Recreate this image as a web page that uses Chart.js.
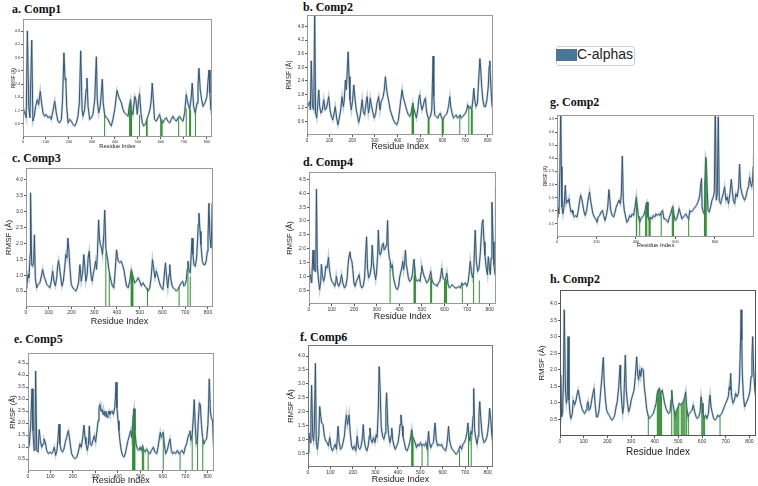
<!DOCTYPE html>
<html><head><meta charset="utf-8">
<script src="https://cdn.jsdelivr.net/npm/chart.js@4.4.1/dist/chart.umd.min.js"></script>
<style>
html,body{margin:0;padding:0;background:#fff;}
#fig{position:relative;width:758px;height:486px;overflow:hidden;background:#fff;}
.ttl{position:absolute;font-family:'Liberation Serif','Times New Roman',serif;font-weight:bold;font-size:12px;line-height:12px;color:#111;white-space:nowrap;}
#legBox{position:absolute;left:556px;top:46px;width:79px;height:20px;border:1px solid #cfcfcf;border-radius:3px;box-sizing:border-box;background:#fff;}
#legSw{position:absolute;left:556px;top:49px;width:21px;height:12px;background:#4a7796;}
#legTx{position:absolute;left:577px;top:47px;font-family:'Liberation Sans',Arial,sans-serif;font-size:14px;line-height:14px;color:#222;white-space:nowrap;}
</style></head>
<body><div id="fig">
<div id="legBox"></div><div id="legSw"></div><div id="legTx">C-alphas</div>
</div>
<script>
// ---------------- data ----------------
const xTicks100 = [0,100,200,300,400,500,600,700,800];
const xTicks200 = [0,200,400,600,800];
const yTicks06 = [0.6,1.2,1.8,2.4,3.0,3.6,4.2,4.8];
const yTicks05a = [0.5,1.0,1.5,2.0,2.5,3.0,3.5,4.0];
const yTicks05b = [0.5,1.0,1.5,2.0,2.5,3.0,3.5,4.0,4.5];

const resA = [0,7,14,19,25,30,38,43,49,55,62,68,75,81,87,94,101,109,116,123,130,138,145,152,159,167,172,178,183,186,190,196,203,210,217,225,232,239,245,251,257,261,268,274,278,283,290,297,304,312,319,323,329,336,345,349,355,362,370,377,384,391,399,404,409,416,422,428,435,442,449,457,462,468,472,478,486,491,497,503,507,513,519,525,532,539,546,552,558,562,567,572,580,587,594,601,609,616,623,630,638,645,652,659,667,674,681,688,696,703,710,717,725,732,736,742,749,757,761,765,771,777,783,788,794,800,804,809,813,817,822];
const rmsfA = [0.94,1.17,0.87,4.81,1.39,0.87,4.39,0.72,0.94,1.39,1.69,1.47,2.07,1.54,1.09,0.94,1.02,0.87,0.94,0.8,1.17,1.62,1.09,0.72,0.64,0.8,1.69,3.82,2.6,2.67,1.39,0.64,0.8,0.72,0.57,0.5,0.64,0.94,1.54,3.91,1.24,0.94,1.24,2.14,2.67,1.39,0.8,0.87,1.02,1.69,3.64,1.69,1.09,1.39,2.62,1.54,1.02,0.87,0.8,0.62,0.5,0.8,1.24,1.69,2.11,1.84,1.69,1.54,1.24,1.09,1.02,0.94,1.39,1.69,1.24,1.02,1.84,1.69,1.02,1.69,1.96,1.09,0.64,0.5,0.57,0.8,1.02,1.24,1.69,2.44,1.69,0.8,0.72,0.87,1.02,0.72,0.64,0.8,0.87,0.72,0.64,0.8,0.94,0.8,0.72,0.87,0.94,0.8,0.72,1.09,1.92,1.54,1.24,1.84,2.44,1.39,1.09,1.54,2.29,3.12,2.14,1.69,1.39,1.47,1.62,1.84,2.44,3.04,2.0,1.24,1.39];
const contactResA = [355,464,466,468,470,472,507,537,540,599,602,605,677,710,725,727,729,750];
const contactRmsfA = [1.02,1.4,1.5,1.69,1.4,1.2,1.0,0.8,0.8,0.8,0.75,0.8,0.9,1.3,1.24,1.2,1.24,1.1];

const resB = [0,6,12,15,19,24,30,34,38,43,47,52,56,62,68,74,80,86,92,96,102,108,114,120,125,131,137,143,149,155,161,165,170,174,179,182,186,190,196,202,207,213,218,224,229,236,244,249,255,261,266,272,276,280,286,292,298,304,310,317,323,328,332,337,342,347,351,356,362,368,375,382,390,397,404,410,415,421,425,431,437,443,449,455,461,468,472,478,484,490,494,499,503,509,515,520,524,528,534,540,546,552,555,558,561,565,571,579,584,590,596,602,608,614,620,626,632,636,642,648,654,660,666,672,677,683,689,695,701,707,711,717,723,729,734,738,742,748,754,758,765,769,773,778,784,790,796,802,806,809,812,816,819,822];
const rmsfB = [1.19,1.34,1.48,1.11,3.29,1.26,1.11,5.6,0.97,0.75,1.26,2.0,1.26,0.97,1.11,1.56,1.11,1.19,1.48,1.7,1.11,0.82,0.67,0.97,1.26,0.75,0.45,0.75,1.11,1.7,1.26,1.56,2.44,2.0,3.03,3.69,2.59,1.56,1.11,1.56,2.22,1.56,1.11,0.82,0.56,0.89,1.56,1.04,0.89,1.41,1.7,0.97,1.19,1.63,1.26,0.97,0.75,0.97,1.41,1.7,1.11,1.48,1.56,1.7,2.0,2.59,2.14,1.78,1.48,1.11,0.89,0.67,0.53,0.45,0.64,1.11,1.56,2.0,1.7,1.48,1.26,1.04,0.89,0.82,0.97,1.41,1.19,0.97,0.75,1.11,1.56,1.78,1.41,1.11,1.34,1.56,1.63,1.11,0.82,0.75,0.82,1.11,2.29,3.5,1.7,0.89,0.82,0.75,0.89,0.97,0.75,0.67,0.82,0.89,0.97,1.26,1.7,1.26,0.97,0.75,0.82,0.89,0.75,0.82,0.89,0.75,0.82,0.89,0.97,1.11,1.34,1.19,1.26,1.11,1.56,2.07,1.56,1.26,1.41,2.14,3.39,2.88,2.14,1.56,1.26,1.26,1.56,2.14,3.03,3.29,2.44,1.7,1.26,2.59];
const contactResB = [465,467,469,471,536,538,540,598,600,603,676,716,727,729,731];
const contactRmsfB = [1.26,1.3,1.41,1.25,0.8,0.8,0.78,0.72,0.7,0.68,0.89,1.2,1.1,1.1,1.1];

const resC = [0,4,9,13,18,20,25,29,34,37,41,47,54,61,69,73,79,85,91,98,105,111,117,123,129,135,139,143,148,152,158,164,170,175,180,184,189,193,199,206,213,219,225,231,237,243,249,254,259,263,269,273,278,282,287,291,295,301,306,310,314,319,323,327,332,336,342,346,351,355,360,364,368,374,380,386,392,398,402,406,412,418,424,430,436,442,449,456,463,468,472,478,485,493,500,507,515,522,529,537,544,550,556,561,567,573,579,585,591,596,602,608,613,617,623,629,632,636,642,648,655,661,668,675,683,689,694,700,705,709,712,716,722,726,730,734,738,744,750,754,757,760,765,769,775,781,787,792,797,800,804,808,813,816,819,822];
const rmsfC = [0.6,0.71,1.02,0.92,1.65,3.59,1.33,1.28,1.44,2.27,0.92,0.6,0.71,0.76,1.02,1.18,0.97,0.86,0.71,0.66,0.6,0.81,1.13,0.81,0.66,0.92,1.28,1.46,1.23,0.97,0.66,0.81,1.23,1.65,1.54,2.17,1.75,1.23,0.71,0.6,0.55,0.5,0.6,0.76,1.33,0.81,1.07,1.65,1.23,0.81,1.02,1.54,1.75,1.33,0.92,0.81,1.02,1.23,1.44,1.18,1.65,2.74,2.17,1.96,1.85,1.65,2.27,3.05,1.85,1.65,1.44,1.18,1.02,0.81,0.66,0.6,1.13,1.8,1.59,1.44,1.39,1.44,1.33,1.18,0.92,0.66,0.6,0.81,1.18,1.02,0.92,0.76,0.81,0.92,0.81,0.66,0.76,0.66,0.6,0.5,0.6,0.92,1.49,1.23,0.92,1.13,0.97,0.81,0.66,0.6,0.55,1.02,1.39,1.02,0.6,1.02,1.33,0.92,0.66,0.6,0.55,0.5,0.55,0.66,0.76,0.81,0.66,0.71,0.86,1.18,1.44,1.18,1.07,1.65,2.17,1.65,1.33,1.28,1.54,2.06,2.58,2.95,2.38,1.96,1.44,1.33,1.33,1.44,1.75,2.17,3.26,2.27,1.85,2.38,3.26,0.92];
const contactResC = [351,366,462,464,466,468,470,534,673,712,722];
const contactRmsfC = [1.7,1.05,1.1,1.18,1.1,1.0,0.9,0.6,0.62,1.3,0.95];

const resD = [0,6,12,15,18,22,27,30,33,37,41,47,52,55,59,65,70,74,80,86,90,95,101,107,114,119,121,126,132,138,144,150,157,163,169,173,178,181,185,190,194,199,204,210,216,222,228,234,240,246,250,255,259,264,270,276,280,284,289,295,299,304,307,311,316,320,324,329,333,338,342,345,348,351,356,360,364,369,373,379,385,391,397,401,407,411,415,419,424,427,431,436,440,446,452,458,462,465,470,474,480,486,492,496,499,504,510,516,521,527,533,539,544,550,556,561,567,573,579,584,588,593,599,604,610,616,622,628,634,640,647,655,662,670,677,684,692,699,705,710,714,719,724,729,733,736,741,747,753,759,763,767,770,775,779,785,790,794,799,803,806,810,815,819,824,827];
const rmsfD = [0.58,1.06,0.76,1.42,1.95,1.24,1.18,1.3,4.15,1.42,0.94,0.52,0.82,1.44,1.06,0.82,1.0,1.36,1.3,1.69,1.3,1.0,0.82,0.76,0.64,0.82,1.0,0.76,0.64,0.76,1.06,0.76,0.58,0.64,0.94,1.42,1.77,1.89,1.65,1.54,1.24,0.76,0.64,0.82,0.94,1.06,0.7,0.58,0.64,0.94,1.65,2.43,1.3,0.94,1.06,1.36,2.13,1.54,1.18,0.88,1.12,1.77,2.67,1.89,1.77,1.89,2.13,2.19,1.95,2.01,2.13,2.37,3.02,2.01,1.65,1.54,1.3,1.42,1.0,0.76,0.58,0.52,0.64,0.94,1.18,1.3,1.54,1.24,1.54,1.95,1.42,1.18,0.94,0.82,0.88,1.06,1.42,1.62,1.06,0.88,0.82,0.88,0.82,1.12,1.38,1.18,1.0,0.88,0.76,0.82,0.94,1.18,0.88,0.76,0.7,0.7,0.64,0.76,0.82,1.06,1.3,0.94,0.88,0.88,1.12,0.7,0.58,0.64,0.7,0.64,0.58,0.58,0.64,0.58,0.76,0.7,0.76,0.64,0.82,1.18,1.54,1.18,0.94,1.18,2.01,2.67,1.54,1.18,1.3,1.89,2.49,2.96,3.05,2.25,1.77,1.3,1.06,1.71,1.3,1.06,1.65,3.68,2.25,1.42,1.06,4.21];
const contactResD = [359,465,467,469,471,539,541,543,600,603,606,609,679,729,754];
const contactRmsfD = [1.5,1.0,1.1,1.3,1.0,0.95,0.95,0.9,0.85,0.88,0.9,0.85,0.75,1.2,0.85];

const resE = [0,6,12,18,22,27,31,34,39,45,50,55,61,67,71,77,83,91,98,105,113,117,123,129,134,138,142,148,154,160,166,172,177,180,184,188,194,202,209,217,224,231,237,243,249,254,258,264,269,273,277,283,289,295,301,307,312,316,320,325,329,334,338,343,347,352,356,361,365,369,374,380,386,389,392,396,401,405,409,415,421,427,433,439,445,451,457,461,466,470,472,476,481,487,493,499,504,510,516,522,528,536,543,550,558,565,573,579,585,589,593,598,602,607,613,620,626,632,638,644,650,657,665,672,678,685,693,700,706,712,717,721,725,731,736,740,745,749,754,758,763,767,772,777,783,789,795,801,804,807,812,816,822,826];
const rmsfE = [0.86,1.13,1.95,3.43,1.68,0.86,1.4,4.17,0.86,0.79,1.73,1.27,0.99,1.13,1.34,1.2,0.86,0.72,0.79,0.72,0.86,0.99,0.65,0.86,1.4,1.95,1.13,0.86,0.79,0.92,1.2,1.4,1.61,1.68,1.4,1.13,0.72,0.58,0.51,0.58,0.79,1.13,0.99,1.34,1.91,1.4,1.13,0.86,1.13,1.88,1.13,1.06,1.27,1.47,1.2,1.68,2.09,2.64,2.77,2.5,2.57,2.36,2.5,2.29,2.5,2.23,2.36,2.5,2.36,2.43,2.5,2.36,2.64,3.05,3.7,2.64,2.09,1.68,1.27,0.86,0.65,0.58,0.72,0.99,1.27,1.47,1.68,1.4,1.95,2.5,2.6,1.68,1.13,0.92,0.86,0.99,0.86,1.06,0.86,0.79,0.92,0.79,0.72,0.86,0.99,0.79,0.72,0.99,1.4,1.61,1.4,1.54,1.61,1.13,0.72,0.86,1.13,1.34,0.86,0.72,0.79,0.72,0.86,0.72,0.79,0.86,0.72,0.99,1.13,1.4,1.54,1.68,1.27,1.54,2.23,2.98,1.82,1.13,1.27,2.09,2.84,2.77,1.95,1.4,1.13,1.27,1.34,1.95,2.77,3.84,2.5,2.23,2.09,0.99];
const contactResE = [466,468,470,472,474,476,509,512,515,535,602,677,731,755,778];
const contactRmsfE = [1.9,2.3,2.5,2.4,1.8,1.5,0.95,0.95,0.9,0.8,1.5,0.75,1.5,1.3,1.3];

const resF = [0,4,10,13,16,21,25,28,33,37,42,48,52,57,61,67,73,79,85,91,97,103,109,115,121,127,131,134,139,145,151,156,162,167,171,176,180,183,188,194,200,206,213,219,225,231,237,243,246,250,256,262,268,273,276,280,286,292,298,304,308,313,317,322,326,332,338,344,347,350,355,359,365,370,373,377,383,389,395,401,407,410,414,419,423,429,435,441,447,453,458,462,466,471,477,483,489,495,501,507,513,519,525,531,537,541,547,553,559,563,566,571,577,583,589,595,601,607,613,618,623,626,630,636,642,648,654,660,666,672,678,684,690,696,702,708,712,717,721,726,730,735,738,742,747,753,758,761,765,769,774,778,784,790,796,800,805,809,814,818,823];
const rmsfF = [0.52,1.23,0.88,1.71,2.95,1.11,0.94,1.35,3.74,0.88,0.64,1.11,2.18,1.82,1.59,1.53,1.11,0.94,0.88,0.76,1.06,0.7,0.58,0.7,0.82,0.64,1.11,1.47,0.88,0.64,0.7,0.88,1.11,1.59,1.88,1.53,1.71,1.88,1.23,0.76,0.64,0.76,0.58,1.11,0.7,0.64,0.76,1.11,1.53,1.0,0.7,0.58,0.76,1.11,1.41,1.0,0.88,1.06,0.88,1.17,1.06,2.06,3.62,2.65,1.47,1.11,1.0,1.23,2.06,2.68,1.59,1.17,0.88,1.11,1.41,1.0,0.76,0.64,0.76,0.88,1.23,1.53,1.88,1.47,1.11,0.88,0.64,0.58,0.7,0.88,1.11,1.35,1.11,1.0,0.88,0.7,0.82,0.76,0.88,0.76,0.82,0.76,0.88,0.64,1.29,0.88,0.7,0.82,0.88,1.35,1.59,1.0,0.76,0.82,0.76,0.82,0.7,0.64,0.58,0.76,1.17,1.47,1.0,0.76,0.64,0.58,0.52,0.46,0.52,0.64,0.76,0.64,0.82,0.88,1.0,1.23,1.59,1.11,0.94,1.29,1.17,1.82,2.83,1.35,1.06,0.82,1.11,1.82,2.36,1.82,1.29,1.06,0.88,0.94,1.06,1.23,1.59,2.12,1.71,1.23,0.88];
const contactResF = [462,464,466,468,508,534,675,715,727];
const contactRmsfF = [1.2,1.3,1.1,1.0,0.75,0.8,0.6,1.3,1.1];

const resG = [0,5,10,15,19,22,25,30,35,39,42,47,52,57,61,66,71,76,81,88,95,101,108,115,120,125,130,137,143,150,157,162,165,170,176,182,189,196,203,209,216,223,230,236,243,250,257,263,268,272,280,287,294,300,307,314,321,326,331,336,341,348,354,361,368,375,381,388,395,402,407,412,419,425,432,439,446,452,456,461,468,474,481,488,495,501,508,515,522,528,535,542,549,555,562,569,576,582,587,593,599,606,613,619,626,633,640,646,653,660,667,673,680,687,694,700,707,714,719,722,727,732,735,741,746,749,753,756,760,765,771,778,785,792,797,802,807,812,817,822,829,835,842,849,856,862,869,876,883,888,893,900,906,913,920,925,930,937,943,950,957,964,970,976,981,986,991,994,997];
const rmsfG = [0.76,1.14,0.88,2.68,5.0,2.68,1.14,0.88,1.14,1.53,1.97,1.27,1.4,1.33,1.46,1.14,0.95,1.01,0.88,0.76,0.82,0.76,1.01,1.4,1.59,1.46,1.27,0.95,0.82,1.01,1.4,1.59,1.72,1.4,1.14,0.88,0.76,0.69,0.56,0.76,0.82,0.95,1.01,0.82,0.63,0.82,1.14,1.81,1.4,1.01,0.82,0.76,0.95,1.14,1.27,1.4,1.27,1.65,3.09,1.4,1.01,0.76,0.56,0.63,0.82,0.76,0.88,0.82,1.14,1.53,1.14,0.82,0.56,0.69,0.76,0.82,1.01,1.27,1.33,0.76,0.63,0.76,0.69,0.82,0.76,0.88,0.82,0.88,0.82,0.95,1.01,0.69,0.69,0.63,0.56,0.76,0.88,1.08,1.17,0.82,0.63,0.69,0.88,1.08,0.88,0.69,0.76,0.82,0.88,0.76,0.69,1.01,0.95,1.01,1.08,1.14,1.21,1.33,1.46,1.53,1.91,2.23,1.14,0.95,0.88,1.91,3.04,2.94,2.04,1.01,0.95,1.14,1.4,1.53,1.72,5.0,1.4,1.65,4.58,1.4,1.27,1.46,1.65,1.91,1.4,1.53,1.27,1.65,2.2,1.78,1.4,1.27,1.65,1.53,1.91,2.78,1.91,1.65,1.53,1.4,1.53,1.78,1.91,2.29,2.04,1.91,2.17,2.68,3.13];
const contactResG = [402,404,419,449,452,455,466,469,472,528,584,587,590,667,747,750,753,756];
const contactRmsfG = [1.5,1.3,0.8,1.0,1.2,1.3,0.7,0.75,0.75,0.9,1.0,1.1,0.9,0.7,1.5,2.2,3.0,2.9];

const resH = [0,3,7,11,15,18,23,27,31,34,38,42,46,52,56,62,68,73,77,82,87,93,99,104,110,114,118,123,128,134,139,144,148,154,159,165,170,176,180,183,187,192,197,203,208,214,220,225,231,237,242,248,252,254,256,261,265,269,272,276,280,285,290,296,301,307,313,318,324,328,332,337,341,346,352,356,361,366,372,377,383,389,394,400,406,411,415,420,424,428,432,437,442,448,454,459,465,469,472,476,482,487,493,499,504,510,515,521,527,531,535,541,546,552,558,563,569,575,580,586,592,596,600,604,610,615,621,627,631,634,638,644,649,655,661,666,672,677,683,689,694,700,706,711,715,718,721,725,731,737,742,748,754,758,763,765,768,770,775,780,786,792,797,803,807,811,814,818,823,827];
const rmsfH = [0.88,1.85,0.58,0.68,1.9,3.82,1.39,0.99,1.19,3.01,1.09,0.68,0.53,0.68,1.09,0.94,1.09,1.29,1.39,1.19,0.99,0.83,0.73,0.68,0.78,0.94,1.04,0.78,0.83,1.09,1.29,1.44,0.99,0.58,0.58,0.78,1.19,1.69,2.1,2.38,1.59,1.09,0.78,0.68,0.63,0.53,0.48,0.53,0.63,0.88,1.04,1.49,1.95,2.15,1.59,0.99,0.68,0.88,1.59,2.45,1.39,0.99,0.73,0.88,1.09,1.24,1.39,1.8,2.4,1.9,1.69,2.0,1.8,2.05,2.0,1.49,1.19,0.83,0.63,0.53,0.58,0.63,0.68,0.83,0.99,1.29,1.39,1.44,1.19,1.34,1.39,1.19,0.99,0.83,0.73,0.68,0.73,1.09,1.39,0.99,0.78,0.58,0.78,0.88,0.99,0.94,0.99,1.04,1.19,1.34,0.88,0.58,0.68,0.73,0.78,0.94,0.73,0.58,0.53,0.58,0.73,1.19,0.99,0.68,0.53,0.63,0.53,0.68,1.09,1.24,0.88,0.68,0.53,0.48,0.53,0.63,0.58,0.63,0.68,0.78,0.88,0.99,1.09,1.19,1.49,1.39,1.9,1.19,0.99,1.09,1.29,1.19,1.29,1.69,2.91,3.82,2.91,1.9,1.19,0.88,0.99,1.09,1.19,1.39,1.8,2.4,3.01,2.0,1.39,1.19];
const contactResH = [373,411,414,417,420,423,426,429,472,482,486,490,494,498,502,512,516,520,524,528,534,542,599,603,607,611,676];
const contactRmsfH = [0.63,1.29,1.39,1.44,1.2,1.3,1.39,1.2,1.39,0.78,0.6,0.75,0.8,0.88,0.95,0.95,0.99,1.04,1.1,1.2,0.9,0.6,0.99,0.7,0.6,0.55,0.63];

// ---------------- layout / style ----------------
const panels = [
  {title:'a. Comp1', tx:12, ty:3,   L:23,  T:19,  R:212, B:137, yw:12, xh:13, yMax:5.35, xMax:822, yt:yTicks06,  xt:xTicks100, tf:3.8, ytf:4.5, xtf:5.7, res:resA, val:rmsfA, gr:contactResA, gv:contactRmsfA, frame:'#999'},
  {title:'b. Comp2', tx:303, ty:1,  L:307, T:15,  R:493, B:135, yw:22, xh:17, yMax:5.32, xMax:823, yt:yTicks06,  xt:xTicks100, tf:4.5, ytf:6.5, xtf:9,   res:resB, val:rmsfB, gr:contactResB, gv:contactRmsfB, frame:'#999'},
  {title:'c. Comp3', tx:12, ty:152, L:26,  T:168, R:213, B:307, yw:22, xh:20, yMax:4.37, xMax:822, yt:yTicks05a, xt:xTicks100, tf:5,   ytf:8,   xtf:9,   res:resC, val:rmsfC, gr:contactResC, gv:contactRmsfC, frame:'#999'},
  {title:'d. Comp4', tx:303, ty:156,L:309, T:172, R:496, B:304, yw:24, xh:18, yMax:4.77, xMax:828, yt:yTicks05b, xt:xTicks100, tf:5,   ytf:7.5, xtf:9,   res:resD, val:rmsfD, gr:contactResD, gv:contactRmsfD, frame:'#999'},
  {title:'e. Comp5', tx:14, ty:333, L:28,  T:353, R:214, B:471, yw:20, xh:15, yMax:4.92, xMax:828, yt:yTicks05b, xt:xTicks100, tf:5,   ytf:7.5, xtf:9,   res:resE, val:rmsfE, gr:contactResE, gv:contactRmsfE, frame:'#999'},
  {title:'f. Comp6', tx:300, ty:331,L:308, T:345, R:493, B:467, yw:22, xh:18, yMax:4.4,  xMax:824, yt:yTicks05a, xt:xTicks100, tf:5,   ytf:7.5, xtf:9,   res:resF, val:rmsfF, gr:contactResF, gv:contactRmsfF, frame:'#777'},
  {title:'g. Comp2', tx:550, ty:96, L:557, T:115, R:754, B:237, yw:14, xh:12, yMax:4.65, xMax:998, yt:yTicks05b, xt:xTicks200, tf:3.8, ytf:4.5, xtf:5.9, res:resG, val:rmsfG, gr:contactResG, gv:contactRmsfG, frame:'#999'},
  {title:'h. Comp2', tx:550, ty:273,L:560, T:290, R:756, B:436, yw:23, xh:22, yMax:4.42, xMax:828, yt:yTicks05a, xt:xTicks100, tf:5,   ytf:8,   xtf:10,  res:resH, val:rmsfH, gr:contactResH, gv:contactRmsfH, frame:'#555'}
];

Chart.defaults.font.family = "'Liberation Sans', Arial, sans-serif";
const LINE_DARK = '#36556f', LINE_HALO = 'rgba(125,160,190,0.5)', GREEN = '#2f8f2f';

const framePlugin = {
  id: 'frame',
  afterDatasetsDraw(chart, args, opts) {
    const a = chart.chartArea, c = chart.ctx;
    c.save();
    c.strokeStyle = opts.color || '#999';
    c.lineWidth = 1;
    c.strokeRect(Math.round(a.left) + 0.5, Math.round(a.top) + 0.5,
                 Math.round(a.right - a.left) - 1, Math.round(a.bottom - a.top) - 1);
    c.restore();
  }
};

const fig = document.getElementById('fig');
panels.forEach(p => {
  const t = document.createElement('div');
  t.className = 'ttl'; t.textContent = p.title;
  t.style.left = p.tx + 'px'; t.style.top = p.ty + 'px';
  fig.appendChild(t);

  const w = p.R - p.L + p.yw, h = p.B - p.T + p.xh;
  const cv = document.createElement('canvas');
  cv.width = w; cv.height = h;
  cv.style.cssText = 'position:absolute;left:' + (p.L - p.yw) + 'px;top:' + p.T + 'px;width:' + w + 'px;height:' + h + 'px;';
  fig.appendChild(cv);

  const n = Math.min(p.res.length, p.val.length);
  const curve = [];
  for (let i = 0; i < n; i++) curve.push({x: p.res[i], y: p.val[i]});
  const contacts = [];
  p.gr.forEach((r, i) => { contacts.push({x: r, y: 0}, {x: r, y: p.gv[i]}, {x: r, y: null}); });

  const gridOpts = {drawOnChartArea: false, drawTicks: true, tickLength: 2, color: '#555'};
  new Chart(cv, {
    type: 'line',
    data: {datasets: [
      {data: contacts, borderColor: GREEN, borderWidth: 1, pointRadius: 0, spanGaps: false, order: 0},
      {data: curve, borderColor: LINE_DARK, borderWidth: 1, pointRadius: 0, order: 1},
      {data: curve, borderColor: LINE_HALO, borderWidth: 2.2, pointRadius: 0, order: 2}
    ]},
    options: {
      responsive: false, animation: false, events: [],
      layout: {padding: 0},
      plugins: {legend: {display: false}, tooltip: {enabled: false}, frame: {color: p.frame}},
      scales: {
        x: {
          type: 'linear', min: 0, max: p.xMax,
          afterBuildTicks: s => { s.ticks = p.xt.map(v => ({value: v})); },
          afterFit: s => { s.height = p.xh; s.paddingLeft = 0; s.paddingRight = 0; },
          ticks: {font: {size: p.tf}, color: '#333', padding: 1, maxRotation: 0, autoSkip: false, callback: v => String(v)},
          grid: gridOpts, border: {display: false},
          title: {display: true, text: 'Residue Index', font: {size: p.xtf}, color: '#222', padding: 0}
        },
        y: {
          type: 'linear', min: 0, max: p.yMax,
          afterBuildTicks: s => { s.ticks = p.yt.map(v => ({value: v})); },
          afterFit: s => { s.width = p.yw; s.paddingTop = 0; s.paddingBottom = 0; },
          ticks: {font: {size: p.tf}, color: '#333', padding: 1, callback: v => Number(v).toFixed(1)},
          grid: gridOpts, border: {display: false},
          title: {display: true, text: 'RMSF (Å)', font: {size: p.ytf}, color: '#222', padding: 0}
        }
      }
    },
    plugins: [framePlugin]
  });
});
</script>
</body></html>
